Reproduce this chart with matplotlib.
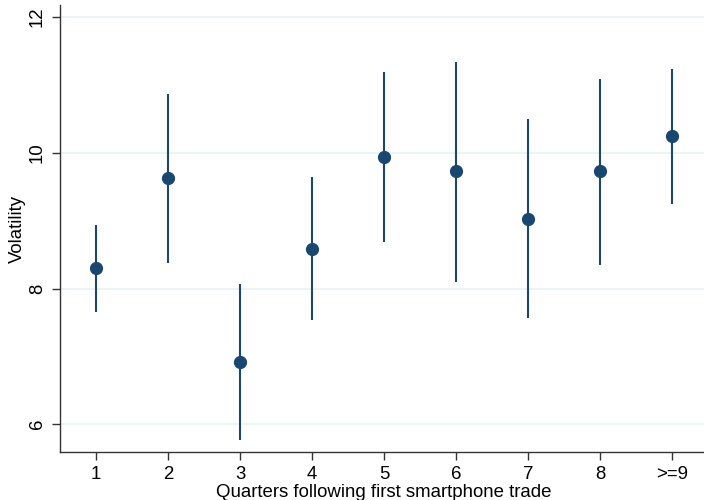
import matplotlib
matplotlib.use("Agg")
from matplotlib import pyplot as plt

quarters = [1, 2, 3, 4, 5, 6, 7, 8, 9]
tick_labels = ["1", "2", "3", "4", "5", "6", "7", "8", ">=9"]
volatility = [8.30, 9.63, 6.92, 8.59, 9.94, 9.73, 9.03, 9.73, 10.25]
upper = [8.94, 10.87, 8.06, 9.65, 11.19, 11.34, 10.50, 11.09, 11.24]
lower = [7.65, 8.38, 5.76, 7.54, 8.69, 8.10, 7.57, 8.35, 9.25]

plt.rcParams["font.family"] = ["Liberation Sans", "DejaVu Sans"]

fig = plt.figure(figsize=(7.04, 5.0), dpi=100)
# axes run past the right edge, like the reference
ax = fig.add_axes([60 / 704, 48 / 500, 648 / 704, 447 / 500])

navy = "#1a476f"
ax.vlines(quarters, lower, upper, color=navy, linewidth=1.5, zorder=3)
ax.plot(quarters, volatility, "o", color=navy, markersize=8.5, zorder=4)

ax.set_xlim(0.5, 9.5)
ax.set_ylim(5.59, 12.18)
ax.set_xticks(quarters)
ax.set_xticklabels(tick_labels)
ax.set_yticks([6, 8, 10, 12])
ax.tick_params(axis="y", labelrotation=90)
for lab in ax.get_yticklabels():
    lab.set_verticalalignment("center")
ax.tick_params(labelsize=13.4, length=6, width=1, color="#333333", pad=4)

ax.grid(axis="y", color="#eaf2f3", linewidth=1.2, zorder=0)
ax.set_axisbelow(True)
for s in ["top", "right"]:
    ax.spines[s].set_visible(False)
for s in ["left", "bottom"]:
    ax.spines[s].set_color("#333333")
    ax.spines[s].set_linewidth(1)

ax.set_xlabel("Quarters following first smartphone trade", fontsize=13.4, labelpad=1)
ax.set_ylabel("Volatility", fontsize=13.4, labelpad=2)

fig.savefig("out.png", dpi=100)
